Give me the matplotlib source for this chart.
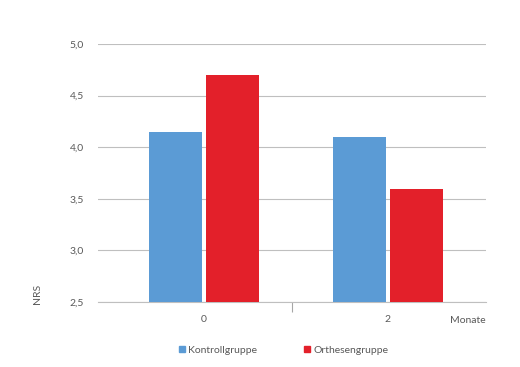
import numpy as np
import matplotlib.pyplot as plt
from matplotlib.lines import Line2D

plt.rcParams['font.family'] = ['Lato', 'DejaVu Sans']

months = ['0', '2']
kontroll = [4.15, 4.1]
orthesen = [4.7, 3.6]

blue = '#5B9BD5'
red = '#E3202A'
grey = '#595959'

fig = plt.figure(figsize=(5.2, 3.67), dpi=100)
ax = fig.add_axes([0.1885, 0.177, 0.746, 0.703])

x = np.arange(len(months))
w = 0.29
ax.bar(x - 0.155, kontroll, w, color=blue, zorder=3)
ax.bar(x + 0.155, orthesen, w, color=red, zorder=3)

ax.set_ylim(2.5, 5.0)
ax.set_xlim(-0.576, 1.533)
ax.set_yticks([2.5, 3.0, 3.5, 4.0, 4.5, 5.0])
ax.set_yticklabels(['2,5', '3,0', '3,5', '4,0', '4,5', '5,0'])
ax.yaxis.grid(True, color='#BFBFBF', linewidth=0.8)
ax.tick_params(axis='y', length=0, pad=10, labelsize=7.5, labelcolor=grey)

ax.set_xticks(x)
ax.set_xticklabels(months)
ax.tick_params(axis='x', length=0, pad=9, labelsize=7.5, labelcolor=grey)
ax.set_xticks([0.478], minor=True)
ax.tick_params(axis='x', which='minor', length=7.5, width=0.8, color='#A6A6A6')

for s in ['left', 'right', 'top']:
    ax.spines[s].set_visible(False)
ax.spines['bottom'].set_color('#BFBFBF')
ax.spines['bottom'].set_linewidth(0.8)

fig.text(0.934, 0.128, 'Monate', ha='right', va='center', fontsize=7.5, color=grey)
fig.text(0.073, 0.2, 'NRS', rotation=90, ha='center', va='center', fontsize=7.5, color=grey)

handles = [Line2D([], [], marker='s', color=blue, linestyle='none', markersize=4),
           Line2D([], [], marker='s', color=red, linestyle='none', markersize=4)]
fig.legend(handles, ['Kontrollgruppe', 'Orthesengruppe'], loc='center',
           bbox_to_anchor=(0.545, 0.046), ncol=2, frameon=False, fontsize=7.5,
           labelcolor=grey, handlelength=0.6, handletextpad=0.3, columnspacing=4.5)

fig.savefig('out.png', dpi=100)
